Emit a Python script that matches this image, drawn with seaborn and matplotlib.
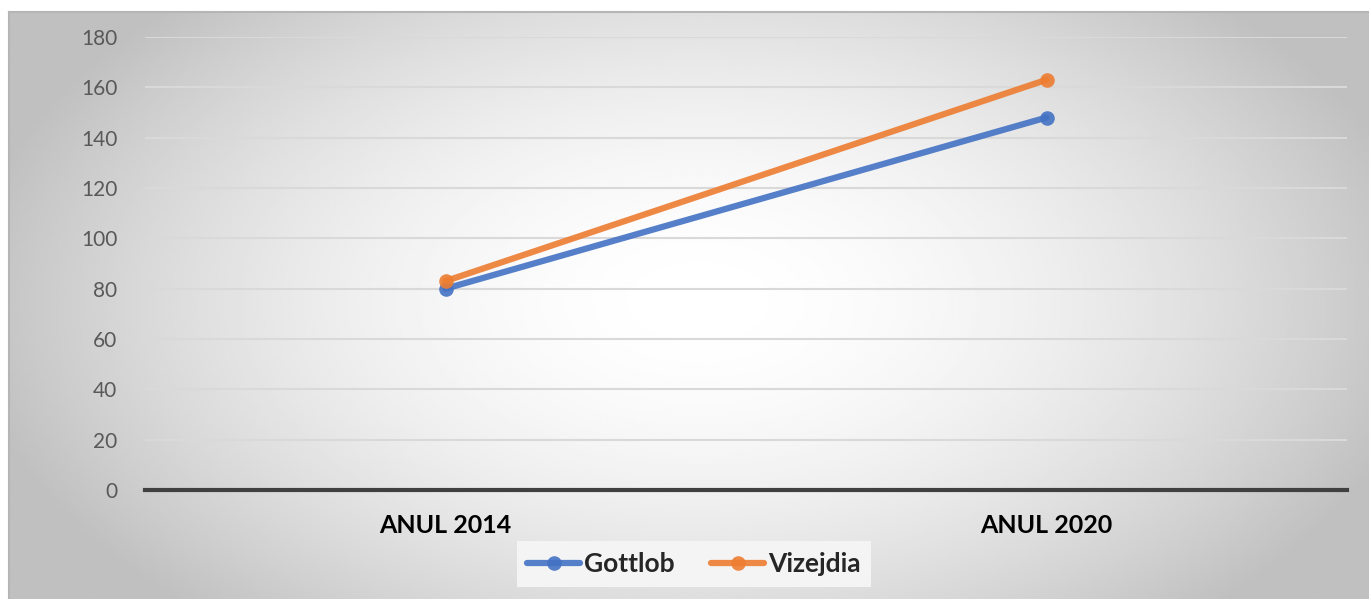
import matplotlib
matplotlib.use("Agg")
import matplotlib.pyplot as plt
import numpy as np
import pandas as pd
import seaborn as sns

sns.set_theme(style="white")
plt.rcParams['font.family'] = ['Lato', 'DejaVu Sans']

# data
years = ["ANUL 2014", "ANUL 2020"]
gottlob = [80, 148]
vizejdia = [83, 163]
series_names = ["Gottlob", "Vizejdia"]
y_ticks = [0, 20, 40, 60, 80, 100, 120, 140, 160, 180]

df = pd.DataFrame({
    "an": years * 2,
    "valoare": gottlob + vizejdia,
    "serie": [series_names[0]] * 2 + [series_names[1]] * 2,
})

W, H = 1369, 599
fig = plt.figure(figsize=(W / 100, H / 100), dpi=100)
fig.patch.set_facecolor("white")

# radial gradient background of the chart area
bg = fig.add_axes([9 / W, 0, 1 - 9 / W, 1 - 12 / H])
gx, gy = np.meshgrid(np.linspace(0, 1360, 400), np.linspace(0, 587, 200))
r = np.sqrt(((gx - 690) / 740) ** 2 + ((gy - 290) / 430) ** 2)
shade = 1 - 0.25 * np.clip(r, 0, 1) ** 1.8
bg.imshow(shade, cmap="gray", vmin=0, vmax=1, aspect="auto", extent=(0, 1, 0, 1))
bg.set_xticks([])
bg.set_yticks([])
for s in ["right", "bottom"]:
    bg.spines[s].set_visible(False)
for s in ["top", "left"]:
    bg.spines[s].set_color("#b5b5b5")
    bg.spines[s].set_linewidth(1.5)

ax = fig.add_axes([145 / W, (H - 490) / H, 1202 / W, 453 / H])
ax.patch.set_alpha(0)

palette = {"Gottlob": "#4472C4", "Vizejdia": "#ED7D31"}
sns.lineplot(data=df, x="an", y="valoare", hue="serie", palette=palette,
             marker="o", markersize=10.5, markeredgewidth=0, linewidth=4.5,
             alpha=0.9, ax=ax, legend=True, sort=False)
for ln in ax.lines:
    ln.set_clip_on(False)
    ln.set_solid_capstyle("round")

ax.set_xlim(-0.5, 1.5)
ax.set_ylim(0, 180)
ax.set_yticks(y_ticks)
ax.yaxis.grid(True, color="#d9d9d9", linewidth=1.5)
ax.set_axisbelow(True)
for s in ["top", "right", "left"]:
    ax.spines[s].set_visible(False)
ax.spines["bottom"].set_color("#404040")
ax.spines["bottom"].set_linewidth(3)
ax.set_xlabel("")
ax.set_ylabel("")
ax.tick_params(axis="y", length=0, pad=20, labelsize=15, labelcolor="#595959")
ax.tick_params(axis="x", length=0, pad=17, labelsize=18, labelcolor="black")
for t in ax.get_xticklabels():
    t.set_fontweight("bold")

handles, labels = ax.get_legend_handles_labels()
leg = ax.legend(handles, labels, loc="center", bbox_to_anchor=(694 / W, (H - 564) / H),
                bbox_transform=fig.transFigure, ncol=2, frameon=True, fancybox=False,
                handlelength=2.0, handletextpad=0.15, columnspacing=1.4,
                borderpad=0.4, borderaxespad=0, prop={"weight": "bold", "size": 19})
leg.get_frame().set_facecolor("#f4f4f4")
leg.get_frame().set_edgecolor("none")
leg.get_frame().set_alpha(1)

fig.savefig("out.png", dpi=100)
